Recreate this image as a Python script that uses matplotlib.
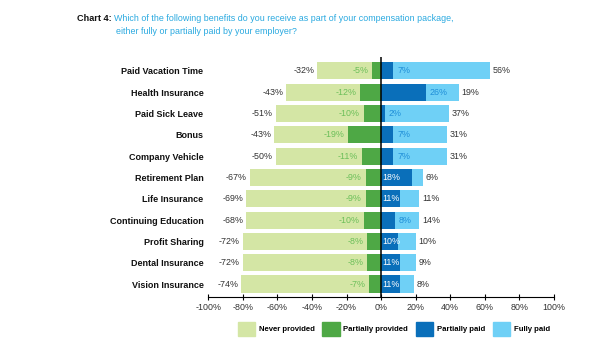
import matplotlib.pyplot as plt
from matplotlib.patches import Patch

plt.rcParams['font.family'] = ['Liberation Sans', 'DejaVu Sans']

# data
benefits = ['Paid Vacation Time', 'Health Insurance', 'Paid Sick Leave', 'Bonus',
            'Company Vehicle', 'Retirement Plan', 'Life Insurance',
            'Continuing Education', 'Profit Sharing', 'Dental Insurance',
            'Vision Insurance']
never_provided = [32, 43, 51, 43, 50, 67, 69, 68, 72, 72, 74]
partially_provided = [5, 12, 10, 19, 11, 9, 9, 10, 8, 8, 7]
partially_paid = [7, 26, 2, 7, 7, 18, 11, 8, 10, 11, 11]
fully_paid = [56, 19, 37, 31, 31, 6, 11, 14, 10, 9, 8]
xticks = [-100, -80, -60, -40, -20, 0, 20, 40, 60, 80, 100]
legend_labels = ['Never provided', 'Partially provided', 'Partially paid', 'Fully paid']

c_never = '#d4e6a5'
c_pprov = '#4ea845'
c_ppaid = '#0a6fba'
c_full = '#6fd0f6'
txt_green = '#6cbf5a'
txt_blue = '#1f8fd8'
txt_dark = '#333333'

fig = plt.figure(figsize=(6.15, 3.5), dpi=100)
ax = fig.add_axes([0.3387, 0.1514, 0.562, 0.6866])

y = list(range(len(benefits)))
h = 0.8
pp_neg = [-v for v in partially_provided]
np_neg = [-v for v in never_provided]
ax.barh(y, pp_neg, height=h, color=c_pprov, linewidth=0)
ax.barh(y, np_neg, left=pp_neg, height=h, color=c_never, linewidth=0)
ax.barh(y, partially_paid, height=h, color=c_ppaid, linewidth=0)
ax.barh(y, fully_paid, left=partially_paid, height=h, color=c_full, linewidth=0)

fs = 6.4
for i in y:
    a, b = partially_provided[i], never_provided[i]
    ax.text(-a - 2.2, i, f'-{a}%', ha='right', va='center', fontsize=fs, color=txt_green)
    ax.text(-a - b - 1.6, i, f'-{b}%', ha='right', va='center', fontsize=fs, color=txt_dark)
    c, d = partially_paid[i], fully_paid[i]
    if 9 < c < 20:
        ax.text(0.8, i, f'{c}%', ha='left', va='center', fontsize=fs, color='white')
    else:
        ax.text(c + 2.2, i, f'{c}%', ha='left', va='center', fontsize=fs, color=txt_blue)
    ax.text(c + d + 1.6, i, f'{d}%', ha='left', va='center', fontsize=fs, color=txt_dark)

ax.axvline(0, color='black', linewidth=1.1, zorder=5)

ax.set_xlim(-100, 100)
ax.set_ylim(10.61, -0.67)
ax.set_yticks(y)
ax.set_yticklabels(benefits, fontsize=6.5, fontweight='bold', color='#111111')
ax.tick_params(axis='y', length=0, pad=3.5)
ax.set_xticks(xticks)
ax.set_xticklabels([f'{t}%' for t in xticks], fontsize=6.4, color=txt_dark)
ax.tick_params(axis='x', direction='inout', length=4, width=0.8, pad=2)
for s in ['top', 'right', 'left']:
    ax.spines[s].set_visible(False)
ax.spines['bottom'].set_linewidth(0.8)

# title
fig.text(77 / 615, 1 - 21 / 350, 'Chart 4:', fontsize=6.6, fontweight='bold',
         color='#111111', va='baseline')
fig.text(114.5 / 615, 1 - 21 / 350,
         'Which of the following benefits do you receive as part of your compensation package,',
         fontsize=6.4, color='#29a9e0', va='baseline')
fig.text(116 / 615, 1 - 34 / 350, 'either fully or partially paid by your employer?',
         fontsize=6.4, color='#29a9e0', va='baseline')

handles = [Patch(color=c) for c in [c_never, c_pprov, c_ppaid, c_full]]
fig.legend(handles, legend_labels, loc='center', bbox_to_anchor=(394 / 615, 1 - 329 / 350),
           ncol=4, frameon=False, prop={'size': 5.6, 'weight': 'bold'},
           handlelength=2.2, handleheight=2.2, handletextpad=0.5, columnspacing=1.0)

fig.savefig('out.png', dpi=100)
